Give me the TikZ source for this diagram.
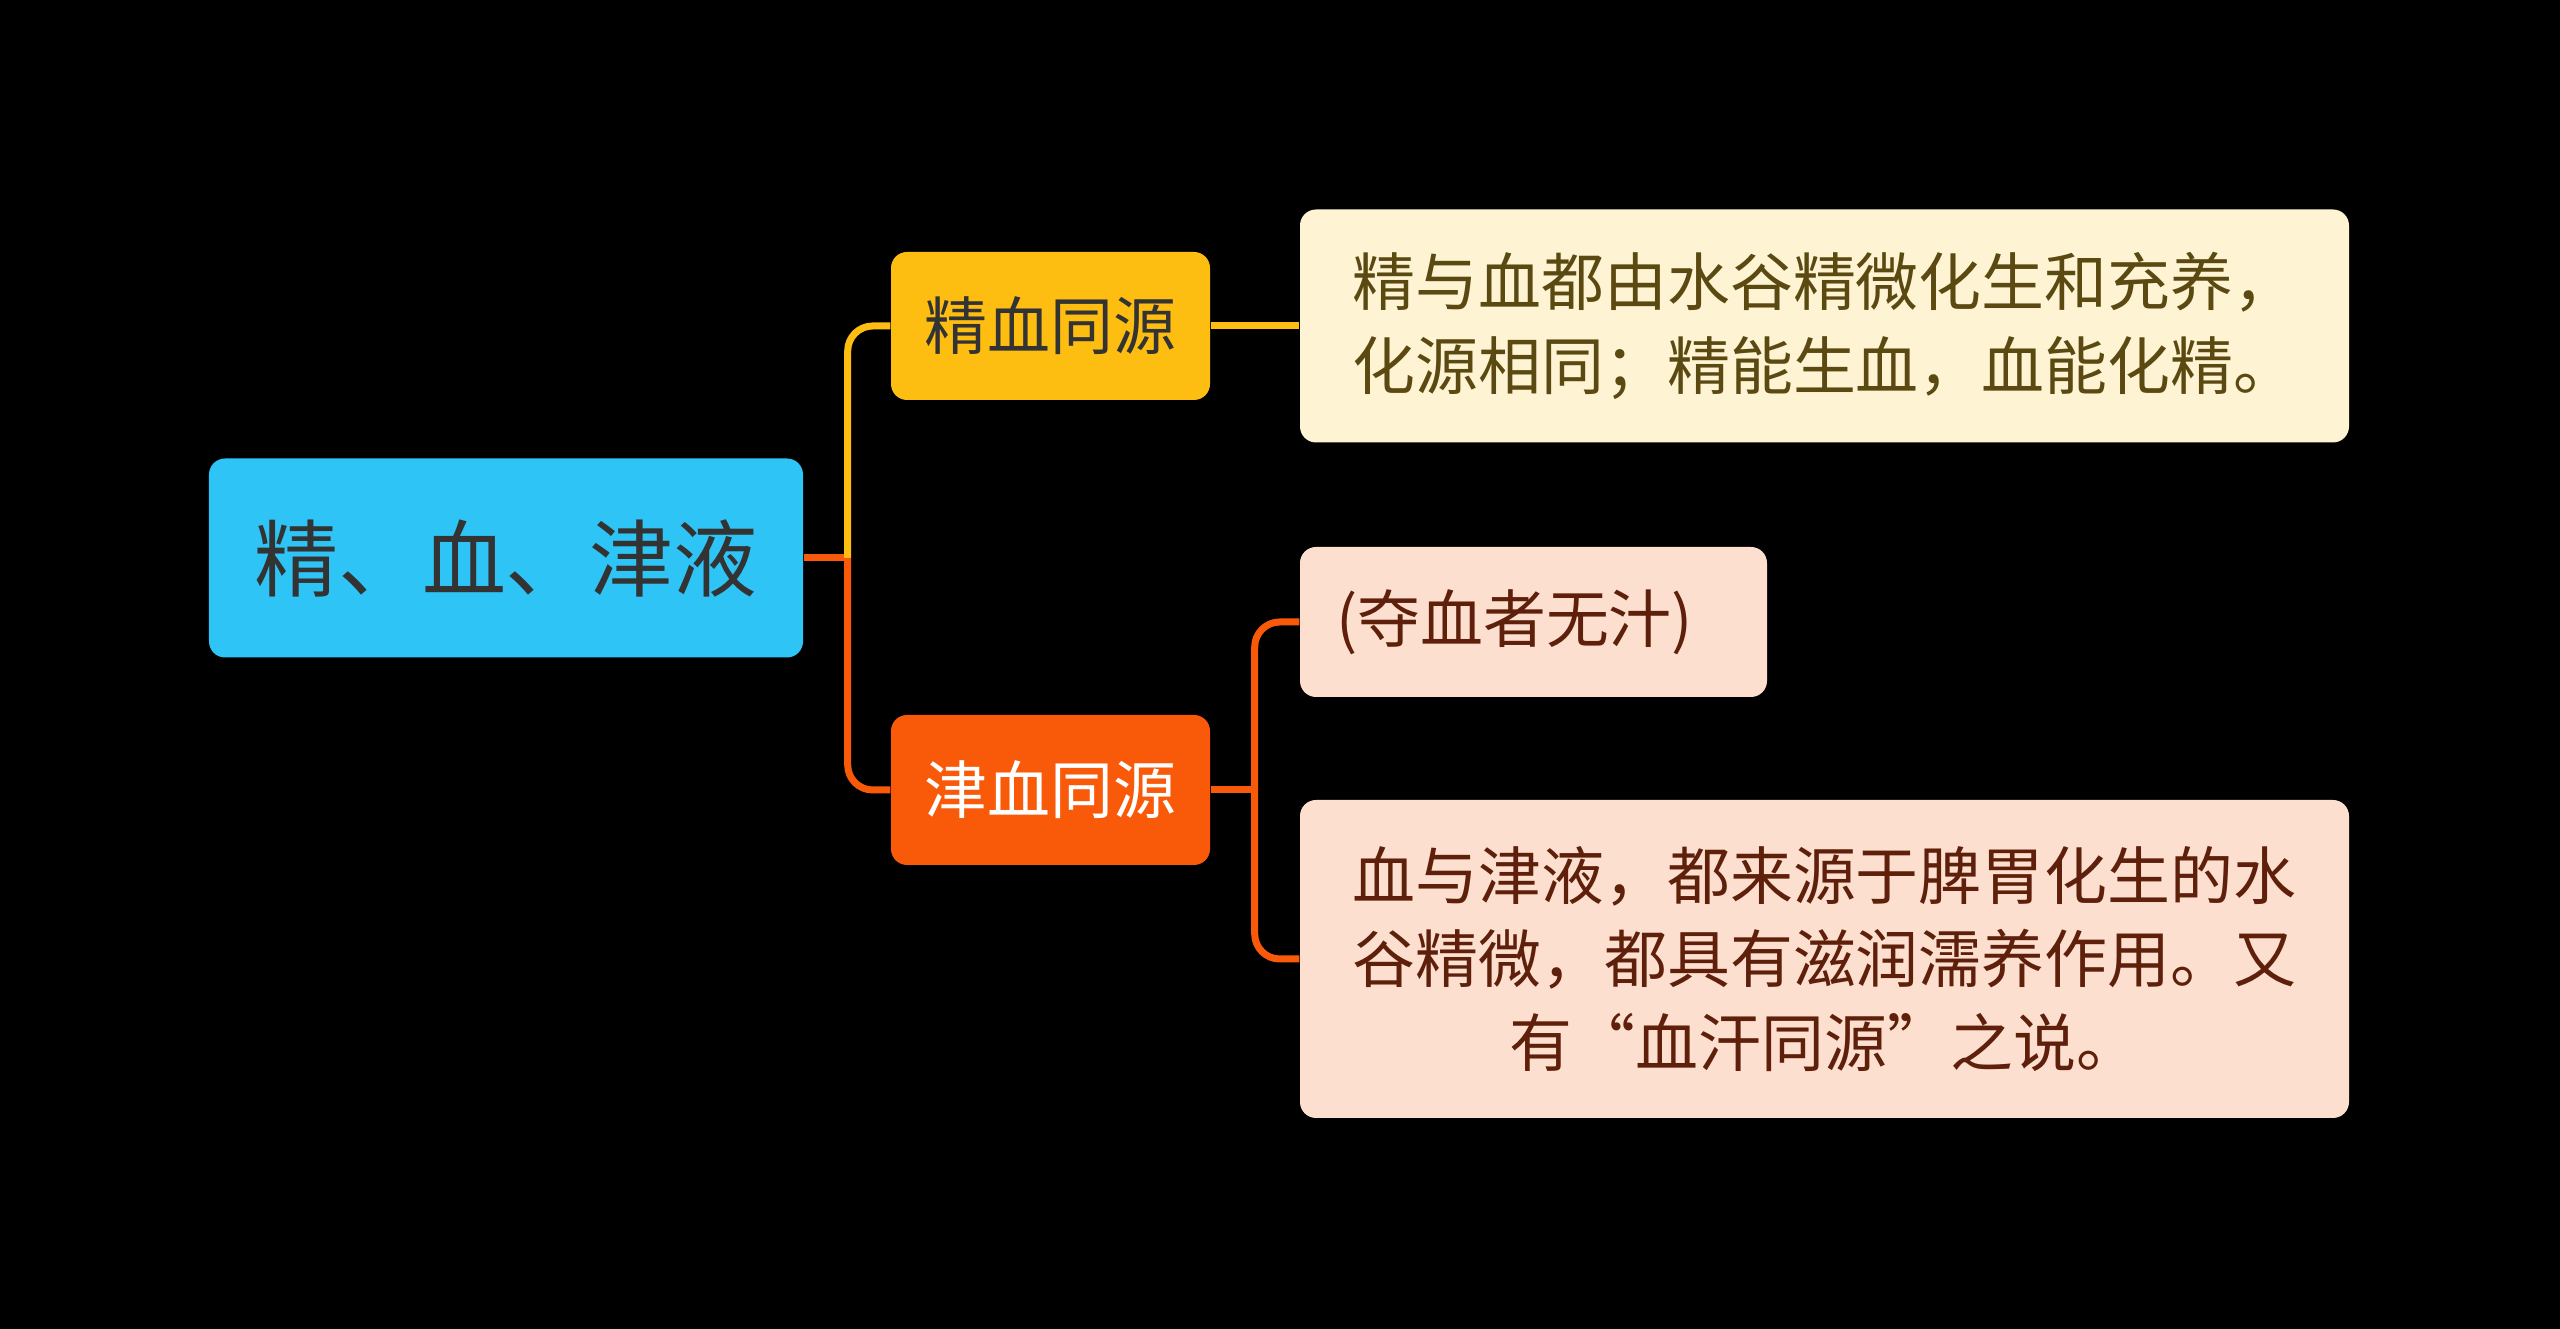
\documentclass[tikz,border=0pt]{standalone}
\usepackage{fontspec}
\setmainfont{Noto Sans CJK SC}
\usetikzlibrary{positioning}
\definecolor{rootblue}{HTML}{2EC5F6}
\definecolor{branchyel}{HTML}{FDBD11}
\definecolor{branchred}{HTML}{F95A09}
\definecolor{leafcream}{HTML}{FEF3D3}
\definecolor{leafpeach}{HTML}{FDDFCF}
\definecolor{textdark}{HTML}{333333}
\definecolor{textolive}{HTML}{5B4912}
\definecolor{textbrown}{HTML}{5E1F0B}
\tikzset{
	box/.style={rounded corners=1.6mm, inner sep=0pt, align=center},
	rootbox/.style={box, fill=rootblue, text=textdark, minimum width=59.4mm, minimum height=19.9mm,
		font=\fontsize{23.9pt}{28pt}\selectfont},
	midbox/.style={box, minimum width=31.9mm, minimum height=14.8mm,
		font=\fontsize{17.9pt}{22pt}\selectfont},
	leafbox/.style={box, minimum height=15mm, font=\fontsize{17.9pt}{23.8pt}\selectfont},
	link/.style={line width=0.7mm, rounded corners=2.5mm}
}
\newcommand{\forkto}[3]{
	\draw[link, #1] (#2) |- (#3.west);
}

\begin{document}
\begin{tikzpicture}[x=1mm, y=1mm]
	\fill[black] (0,0) rectangle (256,132.9);
	% centre node
	\node[rootbox] (root) at (50.6,77.1) {精、血、津液};
	% second level
	\node[midbox, fill=branchyel, text=textdark] (jingxue) at (105.05,100.3) {精血同源};
	\node[midbox, fill=branchred, text=white, minimum height=15mm] (jinxue) at (105.05,53.9) {津血同源};
	% leaves
	\node[leafbox, fill=leafcream, text=textolive, minimum width=104.9mm, minimum height=23.3mm, align=left]
		(jingleaf) at (182.45,100.3) {精与血都由水谷精微化生和充养，\\化源相同；精能生血，血能化精。};
	\node[leafbox, fill=leafpeach, text=textbrown, inner xsep=3.6mm, text width=39.5mm, align=left]
		(duoxue) at (153.35,70.7) {(夺血者无汁)};
	\node[leafbox, fill=leafpeach, text=textbrown, minimum width=104.9mm, minimum height=31.8mm]
		(jinleaf) at (182.45,37.0) {血与津液，都来源于脾胃化生的水\\谷精微，都具有滋润濡养作用。又\\有“血汗同源”之说。};
	% connectors
	\draw[link, branchred] (root.east) -- ++(4.4,0) coordinate (fork);
	\forkto{branchyel}{fork}{jingxue}
	\forkto{branchred}{fork}{jinxue}
	\draw[link, branchyel] (jingxue.east) -- (jingleaf.west);
	\draw[link, branchred] (jinxue.east) -- ++(4.4,0) coordinate (fork2);
	\forkto{branchred}{fork2}{duoxue}
	\forkto{branchred}{fork2}{jinleaf}
\end{tikzpicture}
\end{document}
